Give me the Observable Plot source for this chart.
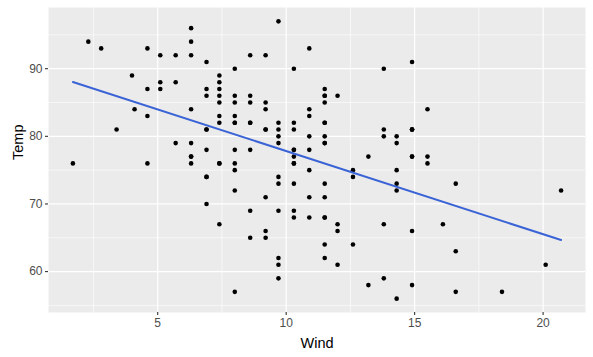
<!DOCTYPE html>
<html>
<head>
<meta charset="utf-8">
<script src="https://cdn.jsdelivr.net/npm/d3@7"></script>
<script src="https://cdn.jsdelivr.net/npm/@observablehq/plot@0.6"></script>
<style>
  html, body { margin: 0; padding: 0; background: white; }
</style>
</head>
<body>
<div id="chart"></div>
<script>
// airquality: Wind (mph) and Temp (°F), 153 days
const wind = [7.4,8.0,12.6,11.5,14.3,14.9,8.6,13.8,20.1,8.6,6.9,9.7,9.2,10.9,13.2,11.5,12.0,18.4,11.5,9.7,
  9.7,16.6,9.7,12.0,16.6,14.9,8.0,12.0,14.9,5.7,7.4,8.6,9.7,16.1,9.2,8.6,14.3,9.7,6.9,13.8,
  11.5,10.9,9.2,8.0,13.8,11.5,14.9,20.7,9.2,11.5,10.3,6.3,1.7,4.6,6.3,8.0,8.0,10.3,11.5,14.9,
  8.0,4.1,9.2,9.2,10.9,4.6,10.9,5.1,6.3,5.7,7.4,8.6,14.3,14.9,14.9,14.3,6.9,10.3,6.3,5.1,
  11.5,6.9,9.7,11.5,8.6,8.0,8.6,12.0,7.4,7.4,7.4,9.2,6.9,13.8,7.4,6.9,7.4,4.6,4.0,10.3,
  8.0,8.6,11.5,11.5,11.5,9.7,11.5,10.3,6.3,7.4,10.9,10.3,15.5,14.3,12.6,9.7,3.4,8.0,5.7,9.7,
  2.3,6.3,6.3,6.9,5.1,2.8,4.6,7.4,15.5,10.9,10.3,10.9,9.7,14.9,15.5,6.3,10.9,11.5,6.9,13.8,
  10.3,10.3,8.0,12.6,9.2,10.3,10.3,16.6,6.9,13.2,14.3,8.0,11.5];
const temp = [67,72,74,62,56,66,65,59,61,69,74,69,66,68,58,64,66,57,68,62,
  59,73,61,61,57,58,57,67,81,79,76,78,74,67,84,85,79,82,87,90,
  87,93,92,82,80,79,77,72,65,73,76,77,76,76,76,75,78,73,80,77,
  83,84,85,81,84,83,83,88,92,92,89,82,73,81,91,80,81,82,84,87,
  85,74,81,82,86,85,82,86,88,86,83,81,81,81,82,86,85,87,89,90,
  90,92,86,86,82,80,79,77,79,76,78,78,77,72,75,79,81,86,88,97,
  94,96,94,91,92,93,93,87,84,80,78,75,73,81,76,77,71,71,78,67,
  76,68,82,64,71,81,69,63,70,77,75,76,68];

const xTicks = [5, 10, 15, 20];
const yTicks = [60, 70, 80, 90];
const xMinor = [2.5, 7.5, 12.5, 17.5];
const yMinor = [55, 65, 75, 85, 95];

const data = wind.map((w, i) => ({Wind: w, Temp: temp[i]}));

const chart = Plot.plot({
  width: 593,
  height: 357,
  marginTop: 7,
  marginBottom: 45,
  marginLeft: 48,
  marginRight: 8,
  x: {domain: [0.75, 21.65]},
  y: {domain: [53.95, 99.05]},
  style: {fontFamily: "'Liberation Sans', Arial, sans-serif", background: "white", overflow: "visible"},
  marks: [
    Plot.frame({fill: "#EBEBEB", stroke: null}),
    Plot.gridX(xMinor, {stroke: "white", strokeOpacity: 1, strokeWidth: 0.6}),
    Plot.gridY(yMinor, {stroke: "white", strokeOpacity: 1, strokeWidth: 0.6}),
    Plot.gridX(xTicks, {stroke: "white", strokeOpacity: 1, strokeWidth: 1.2}),
    Plot.gridY(yTicks, {stroke: "white", strokeOpacity: 1, strokeWidth: 1.2}),
    Plot.axisX(xTicks, {tickSize: 3, tickPadding: 3, stroke: "#333333", color: "#4D4D4D", fontSize: 12, label: null, strokeWidth: 1.1}),
    Plot.axisY(yTicks, {tickSize: 3, tickPadding: 3, stroke: "#333333", color: "#4D4D4D", fontSize: 12, label: null, strokeWidth: 1.1}),
    Plot.dot(data, {x: "Wind", y: "Temp", r: 2.3, fill: "black", stroke: null}),
    Plot.linearRegressionY(data, {x: "Wind", y: "Temp", ci: 0, stroke: "#3A63D6", strokeWidth: 2}),
    Plot.text(["Wind"], {frameAnchor: "bottom", dy: 31, fontSize: 14.5, fill: "black", lineAnchor: "middle"}),
    Plot.text(["Temp"], {frameAnchor: "left", dx: -30, rotate: -90, fontSize: 14.5, fill: "black", lineAnchor: "middle"})
  ]
});
document.getElementById("chart").appendChild(chart);
</script>
</body>
</html>
